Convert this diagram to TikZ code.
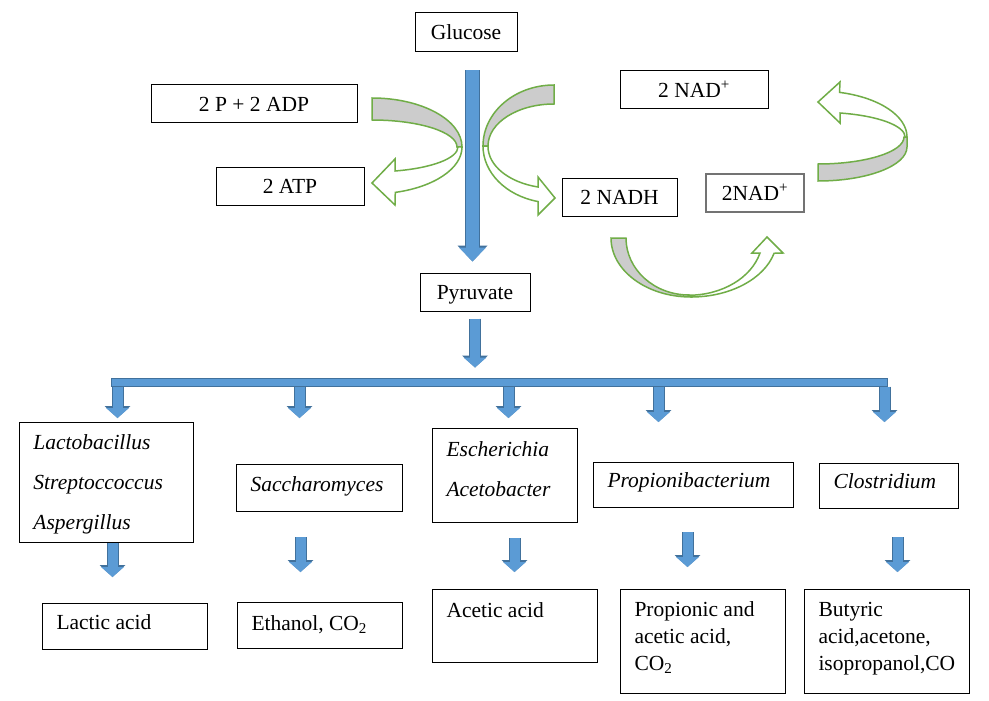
\documentclass[tikz,border=0pt]{standalone}
\usepackage{fontspec}
\setmainfont{Liberation Serif}
\usetikzlibrary{arrows.meta,calc}

\definecolor{flowblue}{HTML}{5B9BD5}
\definecolor{flowedge}{HTML}{41719C}
\definecolor{loopgreen}{HTML}{70AD47}
\definecolor{loopgray}{HTML}{CCCCCC}

\tikzset{
  topbox/.style={draw, line width=1pt, inner sep=0pt, text height=15pt, text depth=0pt,
    font=\fontsize{21.5}{27}\selectfont},
  box/.style={draw, line width=1pt, anchor=north west, inner xsep=14pt, inner ysep=0pt,
    align=flush left, font=\fontsize{21.5}{27}\selectfont},
  genus/.style={box, font=\fontsize{21.5}{40}\selectfont\itshape},
  bluebar/.style={draw=flowedge, fill=flowblue, line width=1pt, inner sep=0pt},
  bigarr/.style={draw=flowblue, line width=13pt, -{Triangle[width=27pt,length=14pt,line width=0pt]},
    preaction={draw=flowedge, line width=15pt, -{Triangle[width=30pt,length=16pt,line width=0pt]}}},
  smallarr/.style={draw=flowblue, line width=10pt, -{Triangle[width=23pt,length=10pt,line width=0pt]},
    preaction={draw=flowedge, line width=12pt, -{Triangle[width=26pt,length=12pt,line width=0pt]}}},
  loopback/.style={draw=loopgreen, fill=loopgray, line width=1.5pt},
  loopfront/.style={draw=loopgreen, fill=white, line width=1.5pt}
}

\begin{document}
\begin{tikzpicture}[x=1pt, y=-1pt]
   \fill[white] (0,0) rectangle (989,701);
   \useasboundingbox (0,0) rectangle (989,701);

   % glycolysis
   \node[topbox, minimum width=102pt, minimum height=39pt] (glucose) at (466,32.5) {Glucose};
   \node[topbox, minimum width=206pt, minimum height=38pt] (adp) at (254,104) {2 P + 2 ADP};
   \node[topbox, minimum width=148pt, minimum height=38pt] (atp) at (290,186) {2 ATP};
   \node[topbox, minimum width=110pt, minimum height=38pt] (pyruvate) at (475,292) {Pyruvate};
   \node[topbox, minimum width=115pt, minimum height=38pt] (nadh) at (619.5,197) {2 NADH\hspace{8pt}};
   \node[topbox, minimum width=148pt, minimum height=38pt] (nadtop) at (694,90) {2 NAD\textsuperscript{+}};
   \node[topbox, draw=black!55, line width=1.5pt, minimum width=98pt, minimum height=38pt] (nadside) at (755,193) {2NAD\textsuperscript{+}};

   \draw[bigarr, shorten <=18pt, shorten >=11pt] ([xshift=6.5pt]glucose.south) -- ([xshift=-2.5pt]pyruvate.north);

   % ADP -> ATP
   \draw[loopback] (372,98) arc[start angle=-90, end angle=0, x radius=90, y radius=49]
      -- (457,147) arc[start angle=0, end angle=-90, x radius=85, y radius=27] -- cycle;
   \draw[loopfront] (462,147) arc[start angle=0, end angle=75, x radius=90, y radius=47]
      -- (395,205) -- (372,183) -- (395,159) -- (395,171)
      arc[start angle=75, end angle=0, x radius=85, y radius=25] -- cycle;

   % NAD -> NADH
   \draw[loopback] (554,85) arc[start angle=-90, end angle=-180, x radius=71, y radius=61]
      -- (488,146) arc[start angle=-180, end angle=-90, x radius=66, y radius=42] -- cycle;
   \draw[loopfront] (483,146) arc[start angle=180, end angle=103, x radius=71, y radius=57]
      -- (538,215) -- (555,198) -- (538,177) -- (538,187)
      arc[start angle=104, end angle=180, x radius=66, y radius=42] -- cycle;

   % NADH -> NAD
   \draw[loopback] (611,238) arc[start angle=180, end angle=90, x radius=80, y radius=59]
      -- (689,295) arc[start angle=90, end angle=180, x radius=63, y radius=57] -- cycle;
   \draw[loopfront] (691,297) arc[start angle=90, end angle=15, x radius=86, y radius=59]
      -- (783,253) -- (767,237) -- (752,253) -- (760,253)
      arc[start angle=15, end angle=90, x radius=74, y radius=57] -- cycle;

   % NAD back to the top
   \draw[loopback] (818,181) arc[start angle=90, end angle=0, x radius=89, y radius=34]
      -- (907,137) -- (904,137) arc[start angle=0, end angle=90, x radius=86, y radius=27] -- cycle;
   \draw[loopfront] (907,137) arc[start angle=0, end angle=-76, x radius=89, y radius=46]
      -- (840,82) -- (818,102) -- (840,123) -- (840,113)
      arc[start angle=-76, end angle=0, x radius=86, y radius=25] -- cycle;

   % fermentation
   \node[bluebar, minimum width=776pt, minimum height=8pt] (bar) at (499,382) {};
   \draw[smallarr, shorten <=7pt, shorten >=10pt] (pyruvate.south) -- (pyruvate.south |- bar.north);

   \node[genus, text width=146pt, text height=27pt, text depth=93pt] (lacto) at (19,422) {Lactobacillus\\Streptoccoccus\\Aspergillus};
   \node[genus, text width=138pt, text height=27pt, text depth=20pt] (sacch) at (236,464) {Saccharomyces};
   \node[genus, text width=117pt, text height=28pt, text depth=66pt] (esch) at (432,428) {Escherichia\\Acetobacter};
   \node[genus, text width=172pt, text height=25pt, text depth=20pt] (propioni) at (593,462) {Propionibacterium};
   \node[genus, text width=111pt, text height=25pt, text depth=20pt] (clostri) at (819,463) {Clostridium};

   \node[box, text width=137pt, text height=26pt, text depth=20pt] (lactic) at (42,603) {Lactic acid};
   \node[box, text width=137pt, text height=28pt, text depth=18pt] (ethanol) at (237,602) {Ethanol, CO\textsubscript{2}};
   \node[box, text width=137pt, text height=28pt, text depth=45pt] (acetic) at (432,589) {Acetic acid};
   \node[box, text width=137pt, text height=27pt, text depth=77pt] (propionic) at (620,589) {Propionic and\\acetic acid,\\CO\textsubscript{2}};
   \node[box, text width=137pt, text height=27pt, text depth=77pt] (butyric) at (804,589) {Butyric\\acid,acetone,\\isopropanol,CO};

   \foreach \gn/\dx/\gap in {lacto/11/4pt, sacch/-20/46pt, esch/3.5/10pt, propioni/-35/40pt, clostri/-4.5/41pt}
      \draw[smallarr, shorten >=\gap] ($(\gn.north |- bar.south)+(\dx,0)$) -- ($(\gn.north)+(\dx,0)$);

   \foreach \gn/\pr/\dx/\sa/\sb in {lacto/lactic/6/0pt/26pt, sacch/ethanol/-19/25pt/30pt,
         esch/acetic/9.5/15pt/17pt, propioni/propionic/-6/24pt/22pt, clostri/butyric/8.5/28pt/17pt}
      \draw[smallarr, shorten <=\sa, shorten >=\sb] ($(\gn.south)+(\dx,0)$) -- ($(\gn.south |- \pr.north)+(\dx,0)$);
\end{tikzpicture}
\end{document}
